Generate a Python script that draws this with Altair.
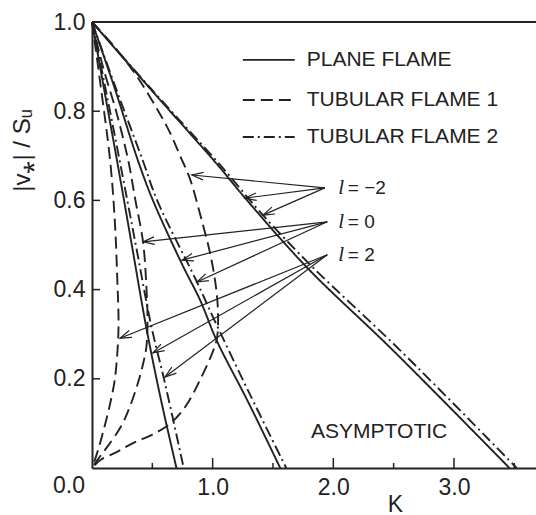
import math
import altair as alt
import pandas as pd

INK = "#222222"
FONT = "Liberation Sans"
W, H = 444, 446
XMAX = 3.68

# ---------------- curve data ----------------
# l = 2 group
plane_l2_K = [0, 0.10, 0.22, 0.33, 0.45, 0.57, 0.70]
plane_l2_V = [1, 0.85, 0.67, 0.50, 0.315, 0.155, 0]
tub2_l2_K = [0, 0.12, 0.25, 0.37, 0.49, 0.605, 0.76]
tub2_l2_V = [1, 0.84, 0.66, 0.49, 0.32, 0.19, 0]
tub1_l2_K = [0, 0.07, 0.15, 0.19, 0.21, 0.22, 0.215, 0.19, 0.155, 0.12, 0.05, 0]
tub1_l2_V = [1, 0.86, 0.69, 0.55, 0.42, 0.33, 0.28, 0.20, 0.15, 0.11, 0.04, 0]

# l = 0 group
plane_l0_K = [0, 0.19, 0.38, 0.505, 0.75, 0.895, 1.035, 1.30, 1.56]
plane_l0_V = [1, 0.85, 0.69, 0.60, 0.455, 0.377, 0.285, 0.145, 0]
tub2_l0_K = [0, 0.20, 0.42, 0.54, 0.87, 1.00, 1.30, 1.61]
tub2_l0_V = [1, 0.85, 0.69, 0.60, 0.417, 0.34, 0.17, 0]
tub1_l0_K = [0, 0.09, 0.20, 0.30, 0.36, 0.423, 0.45, 0.46, 0.45, 0.42, 0.38, 0.31, 0.24, 0.12, 0.05, 0]
tub1_l0_V = [1, 0.90, 0.80, 0.69, 0.60, 0.507, 0.41, 0.33, 0.27, 0.23, 0.19, 0.135, 0.093, 0.045, 0.02, 0]

# l = -2 group
plane_lm2_K = [0, 0.50, 1.04, 1.27, 1.78, 2.49, 3.46]
plane_lm2_V = [1, 0.845, 0.68, 0.605, 0.45, 0.265, 0]
tub2_lm2_K = [0, 0.50, 1.06, 1.417, 1.83, 2.55, 3.52]
tub2_lm2_V = [1, 0.847, 0.68, 0.567, 0.45, 0.265, 0]
tub1_lm2_K = [0, 0.20, 0.38, 0.55, 0.65, 0.73, 0.81, 0.90, 0.98, 1.03, 1.045, 1.035, 1.0, 0.90, 0.78, 0.65, 0.50, 0.34, 0.20, 0.07, 0]
tub1_lm2_V = [1, 0.94, 0.875, 0.80, 0.75, 0.70, 0.65, 0.565, 0.48, 0.40, 0.34, 0.29, 0.26, 0.20, 0.14, 0.10, 0.075, 0.056, 0.035, 0.018, 0]

# legend
legend_labels = ["PLANE  FLAME", "TUBULAR  FLAME  1", "TUBULAR  FLAME  2"]
legend_styles = ["solid", "dashed", "dashdot"]
legend_V = [0.915, 0.825, 0.742]
legend_K0, legend_K1, legend_text_K = 1.25, 1.68, 1.78

# l annotations: label, origin of arrow fan, and arrow targets
l_values = ["= \u22122", "= 0", "= 2"]
l_origin_K = [1.93, 1.95, 1.95]
l_origin_V = [0.628, 0.552, 0.478]
l_targets_K = [[0.828, 1.268, 1.417], [0.423, 0.746, 0.87], [0.232, 0.505, 0.605]]
l_targets_V = [[0.657, 0.605, 0.567], [0.507, 0.466, 0.417], [0.291, 0.258, 0.204]]
l_text_K, l_val_K = 2.04, 2.12

x_major = [1.0, 2.0, 3.0]
x_minor = [0.5, 1.5, 2.5, 3.5]
y_major = [0.2, 0.4, 0.6, 0.8]

# ---------------- build tables ----------------
rows = []
def add(name, style, Ks, Vs):
    for i, (k, v) in enumerate(zip(Ks, Vs)):
        rows.append({"curve": name, "style": style, "seq": i, "K": k, "V": v})

add("P2", "solid", plane_l2_K, plane_l2_V)
add("D2", "dashdot", tub2_l2_K, tub2_l2_V)
add("C2", "dashed", tub1_l2_K, tub1_l2_V)
add("P0", "solid", plane_l0_K, plane_l0_V)
add("D0", "dashdot", tub2_l0_K, tub2_l0_V)
add("C0", "dashed", tub1_l0_K, tub1_l0_V)
add("Pm2", "solid", plane_lm2_K, plane_lm2_V)
add("Dm2", "dashdot", tub2_lm2_K, tub2_lm2_V)
add("Cm2", "dashed", tub1_lm2_K, tub1_lm2_V)
curves = pd.DataFrame(rows)

DASH = {"solid": [1, 0], "dashed": [12, 6], "dashdot": [11, 4, 2, 4]}

xs = alt.Scale(domain=[0, XMAX], nice=False, zero=False)
ys = alt.Scale(domain=[0, 1], nice=False, zero=False)

xaxis = alt.Axis(values=x_major, format=".1f", ticks=False, grid=False,
                 domainColor=INK, domainWidth=2, labelFont=FONT, labelFontSize=23,
                 labelColor=INK, labelPadding=8, labelFlush=False,
                 title="K", titleFont=FONT, titleFontSize=23, titleFontWeight="normal",
                 titleColor=INK, titleX=303, titleY=43, titleBaseline="alphabetic",
                 titleAlign="center")
yaxis = alt.Axis(values=y_major + [1.0], format=".1f", ticks=False, grid=False,
                 domainColor=INK, domainWidth=2, labelFont=FONT, labelFontSize=23,
                 labelColor=INK, labelPadding=7, labelFlush=False,
                 title="|v\u204e| / S\u1d64", titleFont=FONT, titleFontSize=24,
                 titleFontWeight="normal", titleColor=INK, titleAngle=270,
                 titleX=-70, titleY=128, titleAlign="center", titleBaseline="middle")

X = alt.X("K:Q", scale=xs, axis=xaxis)
Y = alt.Y("V:Q", scale=ys, axis=yaxis)

layers = []
for style in ["solid", "dashed", "dashdot"]:
    layers.append(
        alt.Chart(curves[curves["style"] == style]).mark_line(
            color=INK, strokeWidth=1.9, strokeDash=DASH[style], interpolate="catmull-rom"
        ).encode(x=X, y=Y, detail="curve:N", order="seq:Q")
    )

# frame top border
top = pd.DataFrame({"K": [0], "K2": [XMAX], "V": [1.0]})
layers.append(alt.Chart(top).mark_rule(color=INK, strokeWidth=2).encode(x=X, x2="K2:Q", y=Y))

# inward ticks
tick_rows = [{"K": k, "K2": k, "V": 0, "V2": 0.0224} for k in x_major] + \
            [{"K": k, "K2": k, "V": 0, "V2": 0.0112} for k in x_minor]
layers.append(alt.Chart(pd.DataFrame(tick_rows)).mark_rule(color=INK, strokeWidth=1.5).encode(
    x=X, x2="K2:Q", y=Y, y2="V2:Q"))
ytick_rows = [{"K": 0, "K2": 0.066, "V": v} for v in y_major]
layers.append(alt.Chart(pd.DataFrame(ytick_rows)).mark_rule(color=INK, strokeWidth=1.5).encode(
    x=X, x2="K2:Q", y=Y))

# "0.0" corner label
layers.append(alt.Chart(pd.DataFrame({"K": [0], "V": [0], "t": ["0.0"]})).mark_text(
    font=FONT, fontSize=23, color=INK, align="right", baseline="middle", dx=-7, dy=18
).encode(x=X, y=Y, text="t:N"))

# legend
leg = pd.DataFrame({"K": [legend_K0] * 3, "K2": [legend_K1] * 3, "V": legend_V,
                    "style": legend_styles, "label": legend_labels,
                    "KT": [legend_text_K] * 3})
for style in legend_styles:
    layers.append(alt.Chart(leg[leg["style"] == style]).mark_rule(
        color=INK, strokeWidth=1.9, strokeDash=DASH[style]).encode(x=X, x2="K2:Q", y=Y))
layers.append(alt.Chart(leg).mark_text(font=FONT, fontSize=21, color=INK, align="left",
                                       baseline="middle").encode(
    x=alt.X("KT:Q", scale=xs, axis=xaxis), y=Y, text="label:N"))

# ASYMPTOTIC
layers.append(alt.Chart(pd.DataFrame({"K": [2.38], "V": [0.081], "t": ["ASYMPTOTIC"]})).mark_text(
    font=FONT, fontSize=21, color=INK, align="center", baseline="middle").encode(x=X, y=Y, text="t:N"))

# arrows
sx, sy = W / XMAX, H / 1.0
arr = []
for i in range(3):
    for tk, tv in zip(l_targets_K[i], l_targets_V[i]):
        dx = (tk - l_origin_K[i]) * sx
        dy = -(tv - l_origin_V[i]) * sy
        phi = math.degrees(math.atan2(dy, dx))
        ang = (phi - 180.0) % 360.0
        arr.append({"K": l_origin_K[i], "V": l_origin_V[i], "K2": tk, "V2": tv, "ang": ang})
arr = pd.DataFrame(arr)
layers.append(alt.Chart(arr).mark_rule(color=INK, strokeWidth=1.2).encode(
    x=X, y=Y, x2="K2:Q", y2="V2:Q"))
layers.append(alt.Chart(arr).mark_point(
    shape="M 1 -0.33 L 0 0 L 1 0.33", filled=False, color=INK, strokeWidth=1.2, size=520, opacity=1
).encode(x=alt.X("K2:Q", scale=xs, axis=xaxis), y=alt.Y("V2:Q", scale=ys, axis=yaxis),
         angle=alt.Angle("ang:Q", scale=None)))

# l labels
lab = pd.DataFrame({"K": [l_text_K] * 3, "KV": [l_val_K] * 3, "V": l_origin_V,
                    "l": ["l"] * 3, "val": l_values})
layers.append(alt.Chart(lab).mark_text(font="Liberation Serif", fontStyle="italic", fontSize=21,
                                       color=INK, align="left", baseline="middle").encode(
    x=X, y=Y, text="l:N"))
layers.append(alt.Chart(lab).mark_text(font=FONT, fontSize=19, color=INK, align="left",
                                       baseline="middle").encode(
    x=alt.X("KV:Q", scale=xs, axis=xaxis), y=Y, text="val:N"))

chart = alt.layer(*layers).properties(
    width=W, height=H,
    autosize=alt.AutoSizeParams(type="none"),
    padding={"left": 92, "top": 22, "right": 0, "bottom": 47},
    background="white",
).configure_view(stroke=None)

chart.save("out.html", embed_options={"renderer": "svg", "actions": False})
